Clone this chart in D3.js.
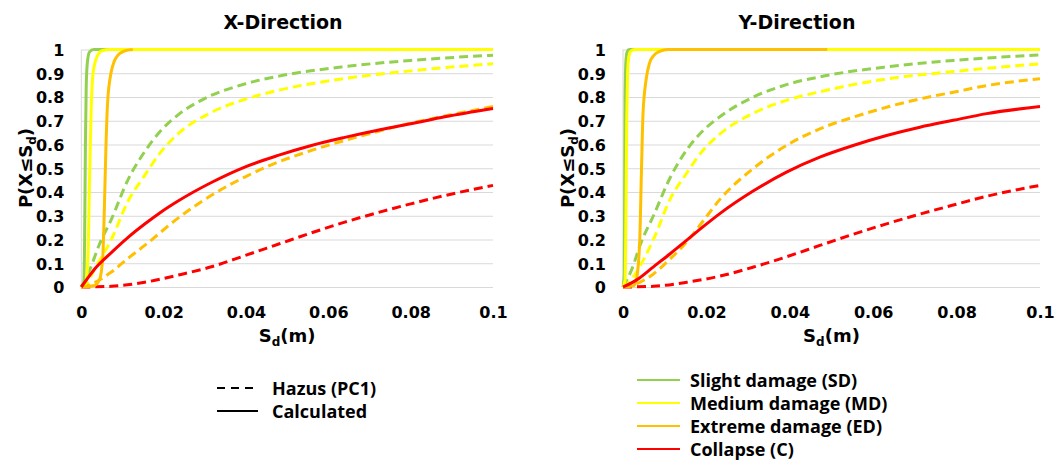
<!DOCTYPE html>
<html>
<head>
<meta charset="utf-8">
<script src="https://cdn.jsdelivr.net/npm/d3@7"></script>
<style>
  body { margin: 0; background: #fff; }
  svg { display: block; }
  .tick text { font-family: "DejaVu Sans", Verdana, sans-serif; font-weight: bold; font-size: 16px; fill: #000; }
  .titulo, .labels { font-family: "DejaVu Sans", Verdana, sans-serif; font-weight: bold; fill: #000; }
  .leyenda { font-family: "Open Sans", Lato, sans-serif; font-weight: bold; font-size: 18px; fill: #000; }
</style>
</head>
<body>
<div id="graf"></div>
<script>
// tick labels
const xTicks = [0, 0.02, 0.04, 0.06, 0.08, 0.1]
const xTickLabels = ["0", "0.02", "0.04", "0.06", "0.08", "0.1"]
const yTicks = [0, 0.1, 0.2, 0.3, 0.4, 0.5, 0.6, 0.7, 0.8, 0.9, 1]
const yTickLabels = ["0", "0.1", "0.2", "0.3", "0.4", "0.5", "0.6", "0.7", "0.8", "0.9", "1"]

const estados = ["Slight damage (SD)", "Medium damage (MD)", "Extreme damage (ED)", "Collapse (C)"]
const colores = ["#92D050", "#FFFF00", "#FFC000", "#FF0000"]

// X-Direction: [Sd (m), P]
const xHazusSD = [[0, 0], [0.002, 0.07], [0.0044, 0.18], [0.0073, 0.285], [0.0113, 0.45], [0.0154, 0.57], [0.0194, 0.66], [0.0235, 0.725], [0.029, 0.785], [0.0397, 0.855], [0.048, 0.888], [0.064, 0.928], [0.08, 0.954], [0.1, 0.976]]
const xHazusMD = [[0, 0], [0.0015, 0.02], [0.0032, 0.075], [0.0073, 0.2], [0.0113, 0.36], [0.0154, 0.47], [0.0194, 0.57], [0.0235, 0.645], [0.0316, 0.735], [0.0397, 0.79], [0.0478, 0.828], [0.064, 0.878], [0.08, 0.91], [0.1, 0.94]]
const xHazusED = [[0, 0], [0.0016, 0.007], [0.0073, 0.063], [0.0113, 0.12], [0.0154, 0.175], [0.0235, 0.29], [0.0316, 0.386], [0.0397, 0.463], [0.0478, 0.526], [0.0559, 0.575], [0.064, 0.617], [0.072, 0.655], [0.08, 0.69], [0.0883, 0.72], [0.1, 0.76]]
const xHazusC = [[0, 0], [0.0073, 0.003], [0.0154, 0.02], [0.0235, 0.05], [0.0316, 0.085], [0.0397, 0.132], [0.0478, 0.18], [0.0559, 0.228], [0.064, 0.273], [0.072, 0.313], [0.08, 0.35], [0.0883, 0.385], [0.1, 0.428]]
const xCalcSD = [[0, 0], [0.0006, 0.02], [0.0008, 0.2], [0.001, 0.6], [0.0012, 0.85], [0.0015, 0.95], [0.002, 0.99], [0.003, 1], [0.1, 1]]
const xCalcMD = [[0, 0], [0.001, 0.01], [0.0016, 0.12], [0.002, 0.45], [0.0024, 0.75], [0.0028, 0.89], [0.0036, 0.96], [0.005, 0.995], [0.007, 1], [0.1, 1]]
const xCalcED = [[0, 0], [0.003, 0.005], [0.0044, 0.03], [0.0052, 0.12], [0.0056, 0.33], [0.006, 0.6], [0.0064, 0.78], [0.0072, 0.9], [0.008, 0.95], [0.009, 0.978], [0.0104, 0.993], [0.012, 0.999], [0.0125, 1]]
const xCalcC = [[0, 0], [0.0016, 0.038], [0.0032, 0.075], [0.0073, 0.145], [0.0113, 0.208], [0.0154, 0.265], [0.0194, 0.316], [0.0235, 0.362], [0.0316, 0.44], [0.0397, 0.505], [0.0478, 0.554], [0.0559, 0.596], [0.064, 0.63], [0.072, 0.66], [0.08, 0.687], [0.0883, 0.717], [0.1, 0.752]]

// Y-Direction
const yHazusSD = [[0, 0], [0.002, 0.07], [0.0044, 0.19], [0.0073, 0.3], [0.0113, 0.46], [0.0153, 0.578], [0.0193, 0.66], [0.0233, 0.718], [0.0313, 0.8], [0.0392, 0.852], [0.0472, 0.885], [0.0632, 0.927], [0.0792, 0.954], [0.1, 0.977]]
const yHazusMD = [[0, 0], [0.0015, 0.02], [0.0033, 0.065], [0.0073, 0.2], [0.0113, 0.37], [0.0153, 0.48], [0.0193, 0.578], [0.0233, 0.645], [0.0313, 0.732], [0.0392, 0.786], [0.0472, 0.822], [0.0632, 0.876], [0.0792, 0.907], [0.1, 0.94]]
const yHazusED = [[0, 0], [0.0033, 0.014], [0.0073, 0.055], [0.0113, 0.118], [0.0153, 0.19], [0.0193, 0.28], [0.0233, 0.37], [0.0313, 0.5], [0.0392, 0.596], [0.0472, 0.666], [0.0552, 0.715], [0.0632, 0.757], [0.0712, 0.792], [0.0792, 0.82], [0.0872, 0.848], [0.1, 0.877]]
const yHazusC = [[0, 0], [0.0073, 0.003], [0.0153, 0.02], [0.0233, 0.046], [0.0313, 0.084], [0.0392, 0.127], [0.0472, 0.175], [0.0552, 0.222], [0.0632, 0.266], [0.0712, 0.307], [0.0792, 0.345], [0.0872, 0.382], [0.1, 0.428]]
const yCalcSD = [[0, 0], [0.0003, 0.05], [0.0004, 0.4], [0.0005, 0.8], [0.0007, 0.95], [0.001, 0.99], [0.0015, 1], [0.1, 1]]
const yCalcMD = [[0, 0], [0.0005, 0.03], [0.0007, 0.3], [0.0009, 0.7], [0.0011, 0.9], [0.0014, 0.97], [0.002, 0.995], [0.003, 1], [0.1, 1]]
const yCalcED = [[0, 0], [0.0025, 0.005], [0.0032, 0.03], [0.004, 0.19], [0.0044, 0.47], [0.0048, 0.73], [0.0056, 0.88], [0.0064, 0.945], [0.0074, 0.975], [0.0088, 0.992], [0.0108, 1], [0.049, 1]]
const yCalcC = [[0, 0], [0.0033, 0.03], [0.0073, 0.085], [0.0113, 0.14], [0.0153, 0.197], [0.0193, 0.255], [0.0233, 0.31], [0.0313, 0.405], [0.0392, 0.484], [0.0472, 0.547], [0.0552, 0.596], [0.0632, 0.638], [0.0712, 0.673], [0.0792, 0.702], [0.0872, 0.73], [0.1, 0.76]]

const anchoTotal = 1059
const altoTotal = 463

const svg = d3.select("#graf")
  .append("svg")
  .attr("width", anchoTotal)
  .attr("height", altoTotal)

const panel = (cfg) => {
  const x = d3.scaleLinear().domain([0, 0.1]).range([cfg.x0, cfg.x1])
  const y = d3.scaleLinear().domain([0, 1]).range([287, 49.5])
  const g = svg.append("g")

  // grid
  g.append("g")
    .attr("transform", `translate(${cfg.x0}, 0)`)
    .call(d3.axisLeft(y).tickValues(yTicks).tickSize(-(cfg.x1 - cfg.x0)).tickPadding(17)
      .tickFormat((d, i) => yTickLabels[i]))
    .call((a) => a.select(".domain").remove())
    .call((a) => a.selectAll(".tick line").attr("stroke", "#D9D9D9").attr("stroke-width", 1))
    .call((a) => a.selectAll(".tick text").attr("dy", "0.36em"))

  g.append("line")
    .attr("x1", cfg.x0).attr("x2", cfg.x0)
    .attr("y1", y(0)).attr("y2", y(1))
    .attr("stroke", "#D9D9D9")

  g.append("g")
    .attr("transform", `translate(0, ${y(0)})`)
    .call(d3.axisBottom(x).tickValues(xTicks).tickSize(0).tickPadding(20)
      .tickFormat((d, i) => xTickLabels[i]))
    .call((a) => a.select(".domain").remove())

  const linea = d3.line()
    .x((d) => x(d[0]))
    .y((d) => y(d[1]))
    .curve(d3.curveMonotoneX)

  cfg.hazus.forEach((s, i) => {
    g.append("path")
      .attr("d", linea(s))
      .attr("fill", "none")
      .attr("stroke", colores[i])
      .attr("stroke-width", 3)
      .attr("stroke-dasharray", "9,5")
  })
  cfg.calc.forEach((s, i) => {
    g.append("path")
      .attr("d", linea(s))
      .attr("fill", "none")
      .attr("stroke", colores[i])
      .attr("stroke-width", 3)
  })

  g.append("text")
    .attr("class", "titulo")
    .attr("x", cfg.tx)
    .attr("y", 29)
    .attr("text-anchor", "middle")
    .attr("font-size", 19)
    .text(cfg.titulo)

  const yl = g.append("text")
    .attr("class", "labels")
    .attr("font-size", 18)
    .attr("text-anchor", "middle")
    .attr("transform", `translate(${cfg.x0 - 49}, 168) rotate(-90)`)
  yl.append("tspan").text("P(X≤S")
  yl.append("tspan").attr("font-size", 12).attr("dy", 4).text("d")
  yl.append("tspan").attr("dy", -4).text(")")

  const xl = g.append("text")
    .attr("class", "labels")
    .attr("font-size", 18)
    .attr("text-anchor", "middle")
    .attr("x", (cfg.x0 + cfg.x1) / 2)
    .attr("y", 342)
  xl.append("tspan").text("S")
  xl.append("tspan").attr("font-size", 12).attr("dy", 4).text("d")
  xl.append("tspan").attr("dy", -4).text("(m)")
}

panel({
  x0: 81.3, x1: 493, tx: 283, titulo: "X-Direction",
  hazus: [xHazusSD, xHazusMD, xHazusED, xHazusC],
  calc: [xCalcSD, xCalcMD, xCalcED, xCalcC]
})
panel({
  x0: 623, x1: 1040, tx: 797, titulo: "Y-Direction",
  hazus: [yHazusSD, yHazusMD, yHazusED, yHazusC],
  calc: [yCalcSD, yCalcMD, yCalcED, yCalcC]
})

// leyenda de estilos
const estilos = [{ nombre: "Hazus (PC1)", dash: "8,6" }, { nombre: "Calculated", dash: null }]
const leyA = svg.append("g")
estilos.forEach((e, i) => {
  const yy = 388 + i * 23
  leyA.append("line")
    .attr("x1", 217).attr("x2", 258)
    .attr("y1", yy).attr("y2", yy)
    .attr("stroke", "#000")
    .attr("stroke-width", 2)
    .attr("stroke-dasharray", e.dash)
  leyA.append("text")
    .attr("class", "leyenda")
    .attr("x", 272)
    .attr("y", yy + 7)
    .text(e.nombre)
})

// leyenda de colores
const leyB = svg.append("g")
estados.forEach((e, i) => {
  const yy = 380 + i * 23
  leyB.append("line")
    .attr("x1", 637).attr("x2", 680)
    .attr("y1", yy).attr("y2", yy)
    .attr("stroke", colores[i])
    .attr("stroke-width", 2)
  leyB.append("text")
    .attr("class", "leyenda")
    .attr("x", 690)
    .attr("y", yy + 7)
    .text(e)
})
</script>
</body>
</html>
